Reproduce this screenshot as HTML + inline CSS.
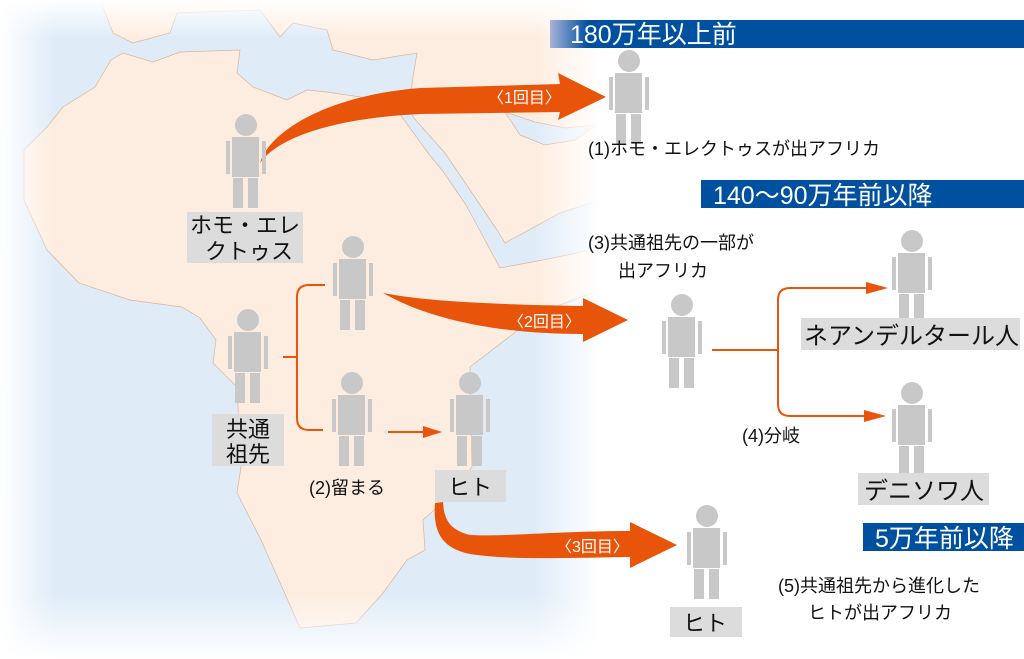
<!DOCTYPE html>
<html><head><meta charset="utf-8"><style>
html,body{margin:0;padding:0;background:#fff}
svg{display:block}
text{font-family:"Liberation Sans","Noto Sans CJK JP",sans-serif}
</style></head><body>
<svg width="1024" height="659" viewBox="0 0 1024 659" xmlns="http://www.w3.org/2000/svg">
<defs>
<g id="p" fill="#c8c8c8">
<circle cx="0" cy="0" r="11"/>
<rect x="-14" y="12" width="27" height="40"/>
<rect x="-20" y="16" width="4" height="33"/>
<rect x="16" y="16" width="4" height="33"/>
<rect x="-13" y="53" width="10" height="30"/>
<rect x="2" y="53" width="10" height="30"/>
</g>
<linearGradient id="fl" x1="0" x2="1"><stop offset="0" stop-color="#fff"/><stop offset="1" stop-color="#fff" stop-opacity="0"/></linearGradient>
<linearGradient id="fr" x1="0" x2="1"><stop offset="0" stop-color="#fff" stop-opacity="0"/><stop offset="1" stop-color="#fff"/></linearGradient>
<linearGradient id="ft" x1="0" x2="0" y1="0" y2="1"><stop offset="0" stop-color="#fff"/><stop offset="1" stop-color="#fff" stop-opacity="0"/></linearGradient>
<linearGradient id="fb" x1="0" x2="0" y1="0" y2="1"><stop offset="0" stop-color="#fff" stop-opacity="0"/><stop offset="1" stop-color="#fff"/></linearGradient>
<linearGradient id="hb" x1="0" x2="1"><stop offset="0" stop-color="#a8b4d8"/><stop offset="0.08" stop-color="#0050a0"/><stop offset="1" stop-color="#0050a0"/></linearGradient>
</defs>

<!-- map -->
<rect x="0" y="0" width="600" height="659" fill="#dfecf8"/>
<g fill="#fdede0" stroke="#d8b49c" stroke-width="0.7">
<polygon points="100,0 113,33 133,43 170,33 177,13 260,10 280,37 293,23 327,30 333,50 373,60 417,53 413,77 410,100 413,117 445,153 468,187 497,230 505,243 560,213 600,200 600,0"/>
<polygon points="123,53 153,62 180,52 240,50 237,73 253,87 287,100 307,90 327,92 360,97 397,110 428,153 442,170 466,205 486,242 500,268 553,258 600,248 600,290 560,305 522,327 470,367 472,467 443,502 423,520 425,550 407,560 383,593 356,623 300,628 289,603 261,540 237,493 241,467 237,387 213,363 216,340 200,318 182,307 130,300 79,283 47,250 24,200 24,150 47,127 63,107 95,87 111,60"/>
</g>
<polygon points="505,112 520,135 545,145 575,140 595,125 565,128 535,122" fill="#dfecf8" stroke="#d8b49c" stroke-width="0.7"/>
<rect x="0" y="0" width="55" height="659" fill="url(#fl)"/>
<rect x="0" y="0" width="600" height="38" fill="url(#ft)"/>
<rect x="0" y="595" width="600" height="64" fill="url(#fb)"/>
<rect x="535" y="0" width="65" height="659" fill="url(#fr)"/>
<rect x="599" y="0" width="425" height="659" fill="#fff"/>

<!-- headers -->
<rect x="550" y="20" width="474" height="28" fill="url(#hb)"/>
<text x="570" y="43" font-size="25" fill="#fff">180万年以上前</text>
<rect x="701" y="180" width="323" height="28" fill="#0050a0"/>
<text x="713" y="204" font-size="25" fill="#fff">140〜90万年前以降</text>
<rect x="863" y="523" width="161" height="28" fill="#0050a0"/>
<text x="875" y="547" font-size="25" fill="#fff">5万年前以降</text>

<!-- big arrows -->
<g fill="#e8540a">
<path d="M260,163 C270,130 330,95 420,88 L560,84 L558,73 L606,97 L558,120 L560,112 L420,114 C340,118 280,135 260,163 Z"/>
<path d="M383,293 C420,300 470,304 583,306 L583,298 L628,320 L583,342 L583,334 C500,334 430,320 383,293 Z"/>
<path d="M435,503 C433,530 440,548 470,554 C510,560 560,558 630,557 L630,568 L677,545 L630,522 L630,531 C560,531 500,537 470,535 C450,530 444,520 443,502 Z"/>
</g>
<g fill="#fff" font-size="16">
<text x="488" y="103">〈1回目〉</text>
<text x="508" y="327">〈2回目〉</text>
<text x="556" y="552">〈3回目〉</text>
</g>

<!-- thin connectors -->
<g fill="none" stroke="#e8540a" stroke-width="2">
<path d="M283,357 H297"/>
<path d="M325,285 H309 Q297,285 297,297 V418 Q297,430 309,430 H323"/>
<path d="M388,432 H425"/>
<path d="M712,350 H778"/>
<path d="M868,288 H790 Q778,288 778,300 V404 Q778,416 790,416 H866"/>
</g>
<g fill="#e8540a">
<polygon points="423,426 442,432 423,438"/>
<polygon points="866,282 888,288 866,294"/>
<polygon points="864,410 886,416 864,422"/>
</g>

<!-- figures -->
<use href="#p" x="246" y="125"/>
<use href="#p" x="629" y="61"/>
<use href="#p" x="248" y="320"/>
<use href="#p" x="353" y="247"/>
<use href="#p" x="352" y="383"/>
<use href="#p" x="470" y="383"/>
<use href="#p" x="682" y="305"/>
<use href="#p" x="912" y="241"/>
<use href="#p" x="912" y="393"/>
<use href="#p" x="707" y="516"/>

<!-- label boxes -->
<g fill="#dcdcdc">
<rect x="187" y="212" width="116" height="51"/>
<rect x="212" y="414" width="72" height="52"/>
<rect x="435" y="470" width="71" height="32"/>
<rect x="801" y="318" width="219" height="32"/>
<rect x="858" y="473" width="131" height="32"/>
<rect x="670" y="607" width="72" height="30"/>
</g>
<g fill="#111" font-size="22">
<text x="190" y="233">ホモ・エレ</text>
<text x="205" y="259">クトゥス</text>
<text x="226" y="437">共通</text>
<text x="226" y="462">祖先</text>
<text x="448" y="495">ヒト</text>
<text x="683" y="631">ヒト</text>
</g>
<g fill="#111" font-size="24">
<text x="804" y="344">ネアンデルタール人</text>
<text x="864" y="499">デニソワ人</text>
</g>

<!-- captions -->
<g fill="#111" font-size="18">
<text x="588" y="155">(1)ホモ・エレクトゥスが出アフリカ</text>
<text x="588" y="249">(3)共通祖先の一部が</text>
<text x="618" y="277">出アフリカ</text>
<text x="309" y="494">(2)留まる</text>
<text x="742" y="442">(4)分岐</text>
<text x="778" y="592">(5)共通祖先から進化した</text>
<text x="808" y="619">ヒトが出アフリカ</text>
</g>
</svg>
</body></html>
